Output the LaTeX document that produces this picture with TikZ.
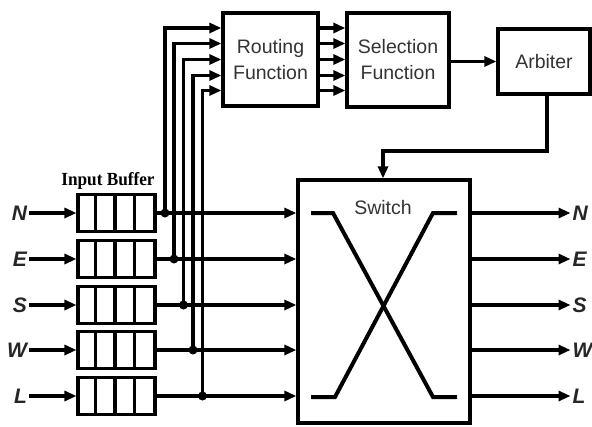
\documentclass[tikz,border=0pt]{standalone}
\usepackage{fontspec}
\setmainfont{Liberation Sans}
\newfontfamily\serifbf{Liberation Serif}
\usetikzlibrary{arrows.meta,calc}
\begin{document}
\begin{tikzpicture}[x=1pt,y=-1pt,
  line width=3.1pt,
  arr/.style={-{Triangle[length=12pt,width=10pt]}},
  blk/.style={draw, line width=3.3pt, inner sep=0pt, align=center,
    font=\fontsize{19.5}{26}\selectfont, text=black!80},
  buf/.style={draw, line width=3.1pt, minimum width=77pt, minimum height=37pt, inner sep=0pt},
  lbl/.style={font=\fontsize{21}{22}\selectfont\bfseries\itshape, text=black!85, inner sep=0.5pt},
  jdot/.style={circle, fill, inner sep=0pt, minimum size=9pt}]
\useasboundingbox (0,0) rectangle (592,426);

% blocks
\node[blk, minimum width=95pt, minimum height=93pt] (rout) at (270.5,59.5) {Routing\\Function};
\node[blk, minimum width=102pt, minimum height=94pt] (sel) at (398,60) {Selection\\Function};
\node[blk, minimum width=92pt, minimum height=65pt] (arb) at (544,61.5) {Arbiter};
\node[draw, line width=3.3pt, minimum width=172pt, minimum height=243pt, inner sep=0pt] (sw) at (384,301.5) {};
\node[font=\fontsize{19.5}{22}\selectfont, text=black!80] (swt) at (383,208) {Switch};

% crossbar symbol
\draw[line width=4pt] (311,213) -- (333,213) -- (433,397) -- (457,397);
\draw[line width=4pt] (311,397) -- (335,397) -- (433,213) -- (457,213);

% Input buffer title
\node[font=\serifbf\bfseries\fontsize{18.5}{20}\selectfont] (ibt) at (108,181) {\scalebox{0.93}[1]{Input Buffer}};

% rows for routing inputs
\coordinate (r1) at (0,28);
\coordinate (r2) at (0,43.5);
\coordinate (r3) at (0,59.5);
\coordinate (r4) at (0,75.5);
\coordinate (r5) at (0,90.5);

% buffers, ports, junctions
\foreach \n/\y/\jx/\r in {N/213/165/r1, E/259/174/r2, S/305/183.5/r3, W/350/193/r4, L/396/202.5/r5}{
  \node[buf] (b\n) at (116.5,\y) {};
  \foreach \d in {19.25,38.5,57.75}
    \draw ($(b\n.north west)+(\d,0)$) -- ($(b\n.south west)+(\d,0)$);
  \node[lbl, anchor=east] (in\n) at (29,\y) {\n};
  \draw[arr] (in\n.east) -- (b\n.west);
  \coordinate (j\n) at (\jx,\y);
  \draw (b\n.east) -- (j\n);
  \draw[arr] (j\n) -- (sw.west |- j\n);
  \draw[arr] (j\n) |- (rout.west |- \r);
  \node[jdot] (d\n) at (j\n) {};
  \draw[arr] (rout.east |- \r) -- (sel.west |- \r);
  \node[lbl, anchor=west] (out\n) at (570.5,\y) {\n};
  \draw[arr] (sw.east |- j\n) -- (out\n.west);
}

% selection -> arbiter -> switch
\draw[arr] (sel.east |- arb) -- (arb.west);
\coordinate (a1) at (547,0);
\coordinate (fb) at (383,151);
\draw[arr] (arb.south -| a1) |- (fb) -- (sw.north -| fb);
\end{tikzpicture}
\end{document}
